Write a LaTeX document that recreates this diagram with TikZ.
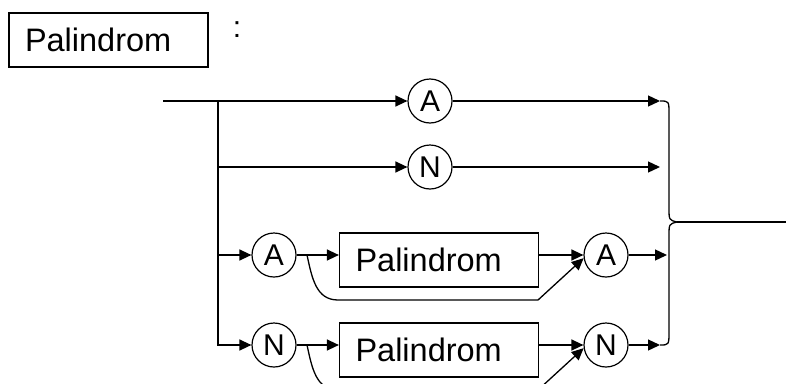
\documentclass[tikz,border=0pt]{standalone}
\usepackage{fontspec}
\setmainfont{Liberation Sans}
\usetikzlibrary{arrows.meta}
\begin{document}
\begin{tikzpicture}[x=1pt,y=-1pt,
  line width=1.3pt,
  every node/.style={line width=1.2pt},
  arr/.style={-{Triangle[length=12pt,width=11pt]}},
  term/.style={circle,draw,minimum size=44pt,inner sep=0pt,font=\fontsize{30}{32}\selectfont},
  nonterm/.style={rectangle,draw,minimum height=54pt,text width=167pt,inner xsep=16pt,inner ysep=0pt,align=left,font=\fontsize{32.5}{36}\selectfont}]
\useasboundingbox (0,0) rectangle (786,383);
\clip (0,0) rectangle (786,383);
% title
\node[nonterm] (title) at (108.5,40) {Palindrom};
\node[font=\fontsize{30}{32}\selectfont] (colon) at (237,30) {:};
% coordinates
\coordinate (start) at (163,101);
\coordinate (split) at (218,101);
\node[term] (A1) at (430,101) {A};
\node[term] (N1) at (430,167) {N};
\coordinate (e1) at (660,101);
\coordinate (e2) at (660,167);
\node[term] (A3) at (274,255) {A};
\node[nonterm] (P3) at (439,260) {Palindrom};
\node[term] (A3b) at (606,255) {A};
\coordinate (e3) at (667,255);
\node[term] (N4) at (274,345) {N};
\node[nonterm] (P4) at (439,350) {Palindrom};
\node[term] (N4b) at (606,345) {N};
\coordinate (e4) at (660,345);
\coordinate (cusp) at (677,222);
\coordinate (out) at (786,222);
% main lines
\draw[arr] (start) -- (A1.west);
\draw (split) -- (218,345);
\draw[arr] (split) |- (N1.west);
\draw[arr] (split) |- (A3.west);
\draw[arr] (split) |- (N4.west);
\draw[arr] (A1.east) -- (e1);
\draw[arr] (N1.east) -- (e2);
% row 3
\draw[arr] (A3.east) -- (P3.west |- A3.east);
\draw[arr] (P3.east |- A3b.west) -- (A3b.west);
\draw[arr] (A3b.east) -- (e3);
\coordinate (b3s) at (307,255);
\coordinate (b3e) at (538,300);
\draw[arr] (b3s) .. controls (312,278) and (316,300) .. (338,300) -- (b3e) -- (A3b.188);
% row 4
\draw[arr] (N4.east) -- (P4.west |- N4.east);
\draw[arr] (P4.east |- N4b.west) -- (N4b.west);
\draw[arr] (N4b.east) -- (e4);
\coordinate (b4s) at (307,345);
\coordinate (b4e) at (538,390);
\draw[arr] (b4s) .. controls (312,368) and (316,390) .. (338,390) -- (b4e) -- (N4b.188);
% brace
\draw (e1) .. controls (669,101) .. (669,114) -- (669,208) .. controls (669,220) .. (cusp);
\draw (cusp) .. controls (669,224) .. (669,236) -- (669,331) .. controls (669,345) .. (e4);
\draw (cusp) -- (out);
\end{tikzpicture}
\end{document}
